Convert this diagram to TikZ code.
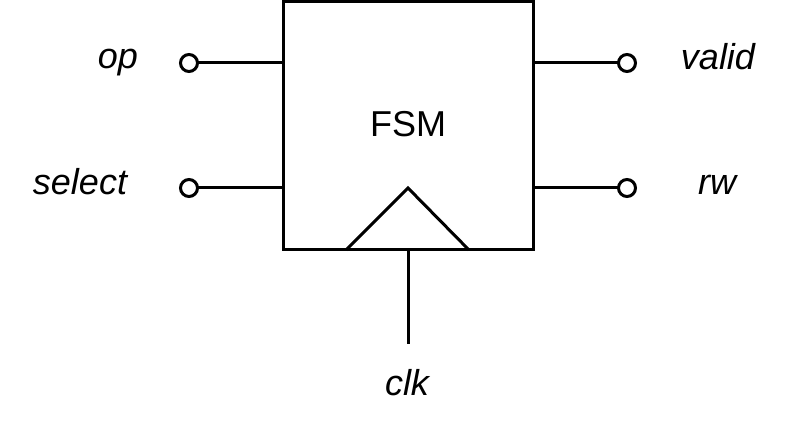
\documentclass[tikz,border=0pt]{standalone}
\usepackage{fontspec}
\setmainfont{Liberation Sans}
\begin{document}
\begin{tikzpicture}[x=1pt,y=1pt,line width=3pt,every node/.style={font=\fontsize{36}{42}\selectfont,inner sep=0pt,outer sep=0pt},port/.style={circle,draw,fill=white,minimum size=17pt,line width=3pt},sig/.style={anchor=base,font=\fontsize{36}{42}\selectfont\itshape}]
  \useasboundingbox (0,0) rectangle (797,434);
  \coordinate (BL) at (283.5,184);
  \coordinate (TR) at (533,432.5);
  \coordinate (Lop) at (283.5,371);
  \coordinate (Lsel) at (283.5,246);
  \coordinate (Rval) at (533,371);
  \coordinate (Rrw) at (533,246);
  \coordinate (T1) at (346,184);
  \coordinate (T2) at (408,246);
  \coordinate (T3) at (469,184);
  \coordinate (Ck) at (408,184);
  \coordinate (Ck1) at (408,90);
  \draw (BL) rectangle (TR);
  \draw (T1)--(T2)--(T3);
  \draw (Ck)--(Ck1);
  \node (fsm) [anchor=base] at (408,297) {FSM};
  \node (pOp) [port] at (189,371) {};
  \node (pSel) [port] at (189,246) {};
  \node (pVal) [port] at (627,371) {};
  \node (pRw) [port] at (627,246) {};
  \draw (pOp)--(Lop);
  \draw (pSel)--(Lsel);
  \draw (Rval)--(pVal);
  \draw (Rrw)--(pRw);
  \node (op) [sig] at (118,365) {op};
  \node (sel) [sig] at (80,239) {select};
  \node (val) [sig] at (718,364) {valid};
  \node (rw) [sig] at (717,239) {rw};
  \node (clk) [sig] at (407,39) {clk};
\end{tikzpicture}
\end{document}
